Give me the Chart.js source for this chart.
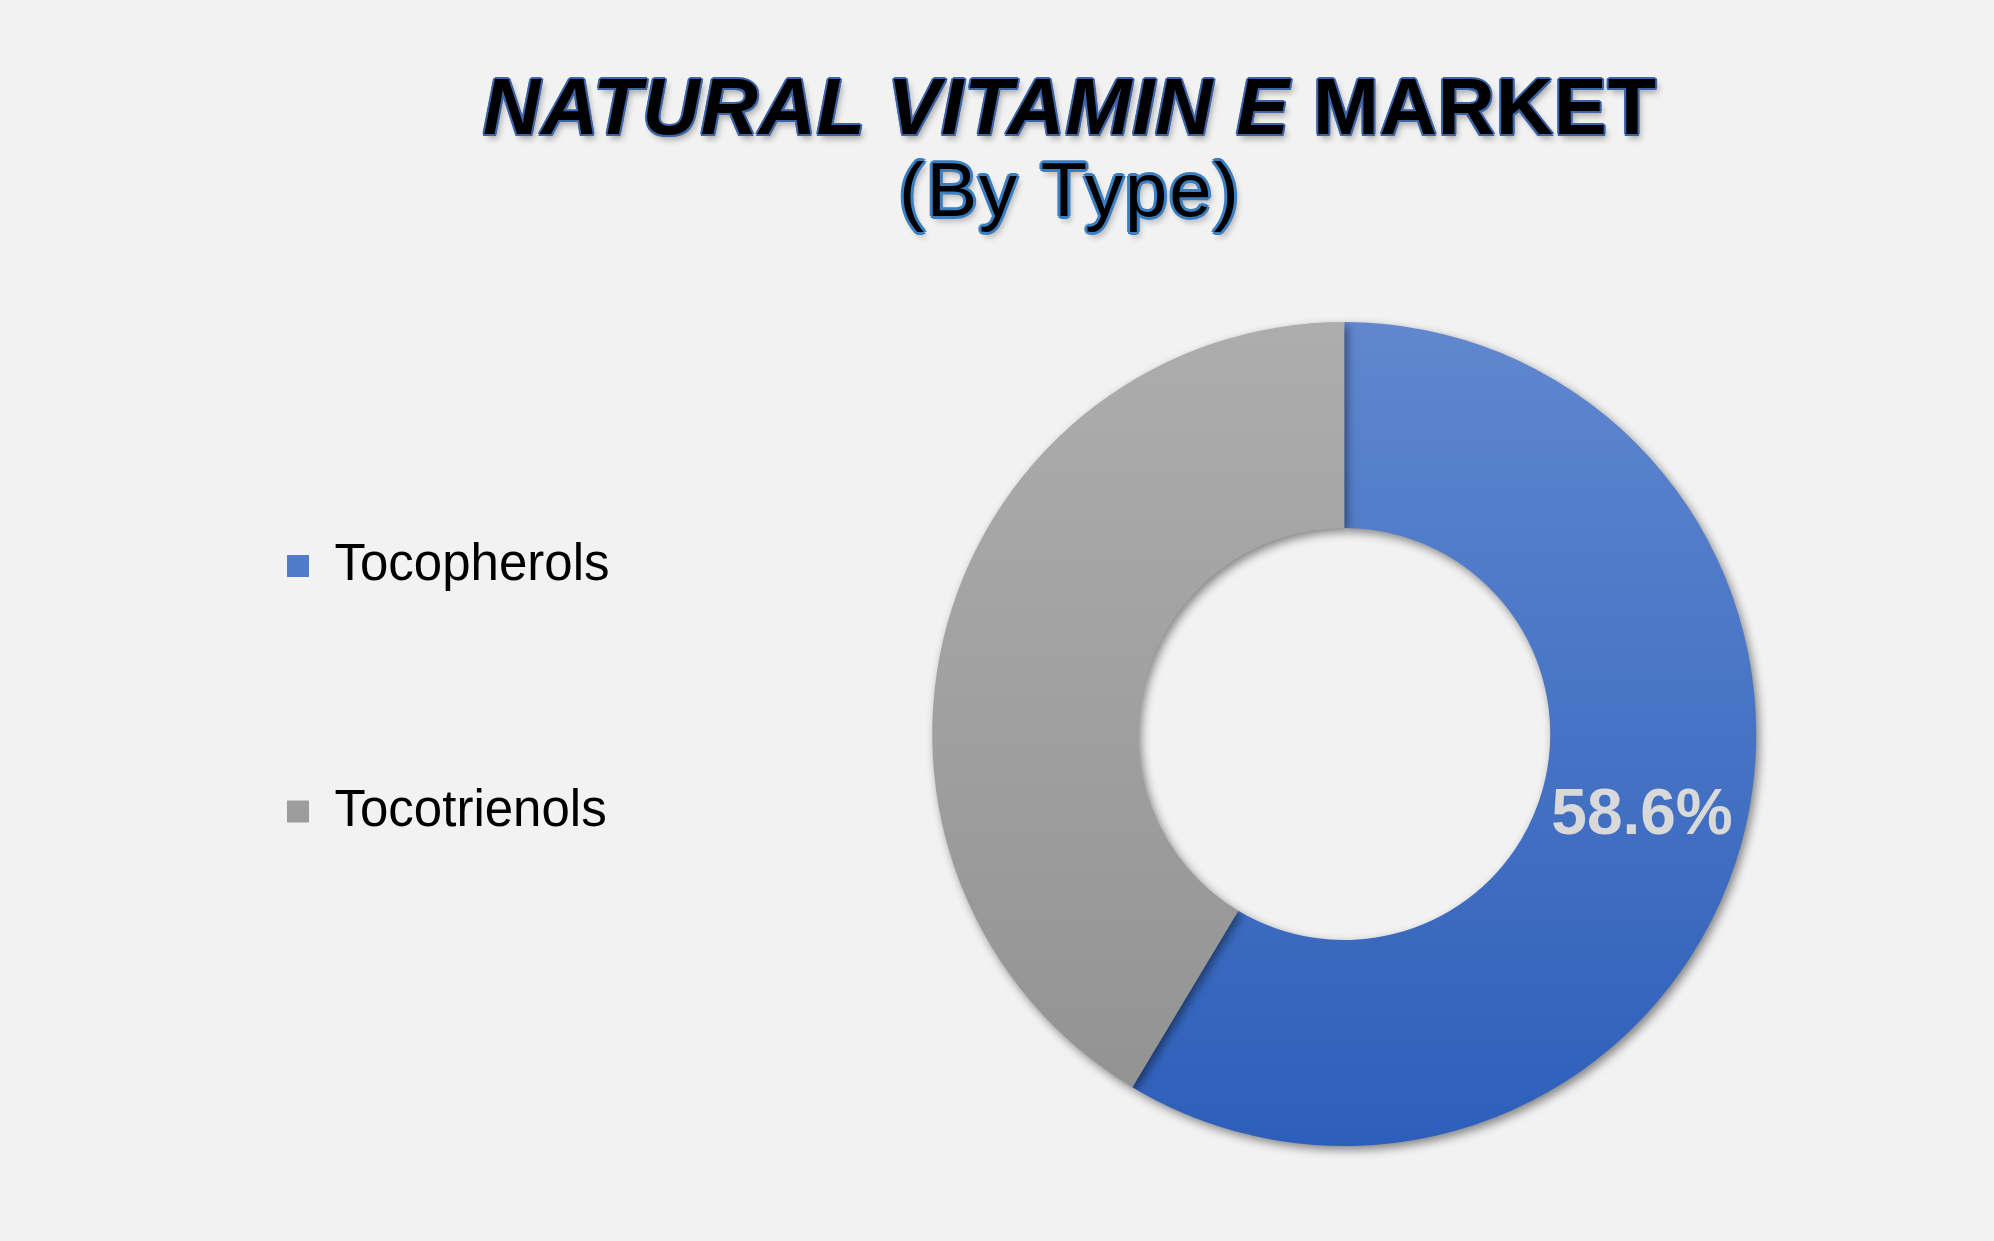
<!DOCTYPE html>
<html>
<head>
<meta charset="utf-8">
<script src="https://cdn.jsdelivr.net/npm/chart.js@4.4.1/dist/chart.umd.min.js"></script>
<style>
  html, body { margin: 0; padding: 0; background: #f2f2f2; overflow: hidden; width: 1994px; height: 1241px; }
  #wrap { position: absolute; left: 0; top: 0; width: 2100px; height: 1241px; }
  .title { position: absolute; left: 0; width: 2140px; text-align: center; color: #000; white-space: nowrap;
           font-family: "Liberation Sans", Arial, sans-serif; }
  .t1 { top: 67px; font-size: 79px; line-height: 79px; font-weight: bold; letter-spacing: 1px;
        text-shadow: -2px 0 #3c64a6, 2px 0 #3c64a6, 0 -2px #3c64a6, 0 2px #3c64a6,
                     -1.5px -1.5px #3c64a6, 1.5px -1.5px #3c64a6, -1.5px 1.5px #3c64a6, 1.5px 1.5px #3c64a6,
                     3px 5px 6px rgba(0,0,0,0.3); }
  .t1 i { font-style: italic; }
  .t2 { top: 152px; font-size: 76px; line-height: 76px; font-weight: normal; letter-spacing: 2px;
        text-shadow: -3px 0 #3a7fc1, 3px 0 #3a7fc1, 0 -3px #3a7fc1, 0 3px #3a7fc1,
                     -2px -2px #3a7fc1, 2px -2px #3a7fc1, -2px 2px #3a7fc1, 2px 2px #3a7fc1,
                     3px 5px 6px rgba(0,0,0,0.3); }
</style>
</head>
<body>
<div class="title t1"><i>NATURAL VITAMIN E</i> MARKET</div>
<div class="title t2">(By Type)</div>
<div id="wrap"><canvas id="myChart"></canvas></div>
<script>
const labels = ['Tocopherols', 'Tocotrienols']
const shares = [58.6, 41.4]
const shownLabels = ['58.6%', '']

// top / bottom colours of each slice gradient
const topColors = ['#6087cf', '#adadad']
const bottomColors = ['#2d5fba', '#919191']

const ctx = document.getElementById('myChart')

function sliceFill(context) {
    const i = context.dataIndex
    const area = context.chart.chartArea
    if (!area) return bottomColors[i]
    const g = context.chart.ctx.createLinearGradient(0, area.top, 0, area.bottom)
    g.addColorStop(0, topColors[i])
    g.addColorStop(1, bottomColors[i])
    return g
}

const ringShadow = {
    id: 'ringShadow',
    beforeDatasetsDraw(chart) {
        const c = chart.ctx
        c.save()
        c.shadowColor = 'rgba(0, 0, 0, 0.45)'
        c.shadowBlur = 10
        c.shadowOffsetX = 3
        c.shadowOffsetY = 4
    },
    afterDatasetsDraw(chart) {
        chart.ctx.restore()
    }
}

const sliceLabels = {
    id: 'sliceLabels',
    afterDraw(chart) {
        const c = chart.ctx
        const arcs = chart.getDatasetMeta(0).data
        c.save()
        c.font = 'bold 64px "Liberation Sans", Arial, sans-serif'
        c.fillStyle = '#d9d9d9'
        c.textAlign = 'center'
        c.textBaseline = 'middle'
        arcs.forEach((arc, i) => {
            if (!shownLabels[i]) return
            const p = arc.tooltipPosition()
            c.fillText(shownLabels[i], p.x, p.y)
        })
        c.restore()
    }
}

new Chart(ctx, {
    type: 'doughnut',
    data: {
        labels: labels,
        datasets: [{
            data: shares,
            backgroundColor: sliceFill,
            borderWidth: 0
        }]
    },
    options: {
        responsive: true,
        maintainAspectRatio: false,
        animation: false,
        cutout: '50%',
        layout: {
            padding: { left: 92.5, right: 31, top: 322, bottom: 95 }
        },
        plugins: {
            tooltip: { enabled: false },
            legend: {
                position: 'left',
                align: 'start',
                // empty title only nudges the items down
                title: { display: true, text: '', padding: 0, font: { size: 20, lineHeight: 1.2 } },
                labels: {
                    boxWidth: 22,
                    boxHeight: 22,
                    padding: 194.5,
                    color: '#000',
                    font: { size: 51, family: '"Liberation Sans", Arial, sans-serif' }
                }
            }
        }
    },
    plugins: [ringShadow, sliceLabels]
});
</script>
</body>
</html>
